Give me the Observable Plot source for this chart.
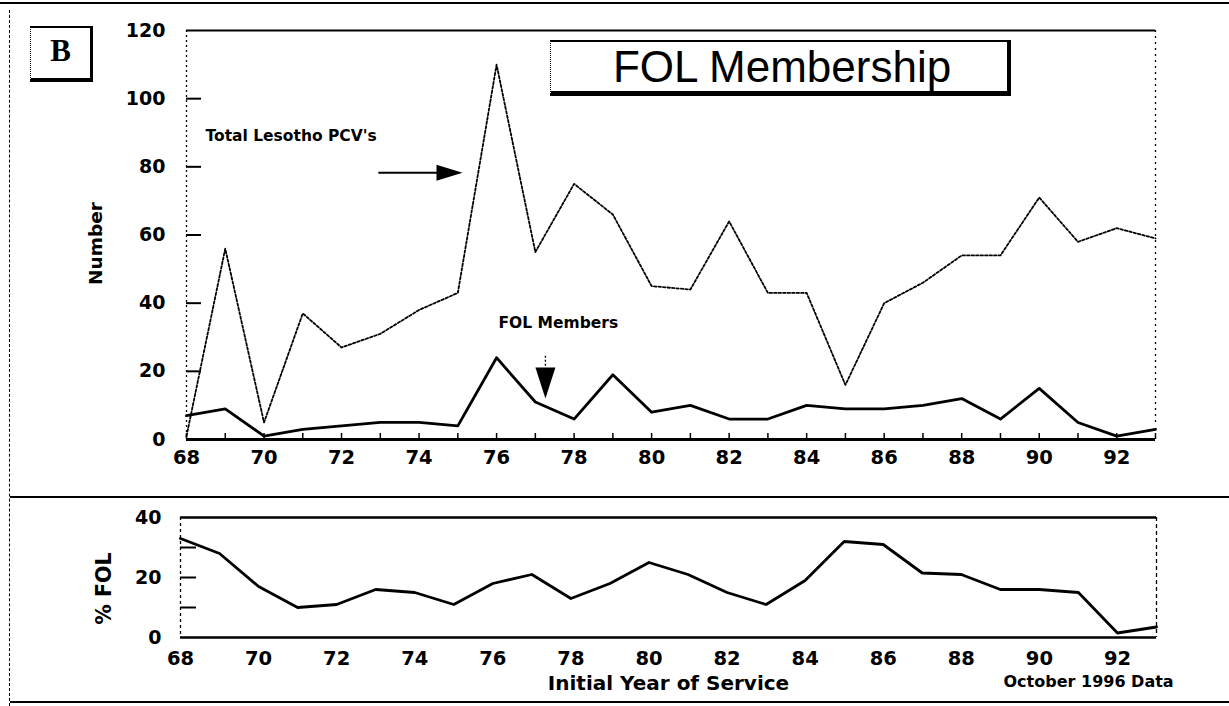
<!DOCTYPE html>
<html>
<head>
<meta charset="utf-8">
<script src="https://cdn.jsdelivr.net/npm/d3@7"></script>
<script src="https://cdn.jsdelivr.net/npm/@observablehq/plot@0.6"></script>
<style>
  html, body { margin: 0; padding: 0; background: #fff; }
  #page { position: relative; width: 1229px; height: 706px; overflow: hidden; background: #fff;
          font-family: "Liberation Sans", Arial, Helvetica, sans-serif; color: #000; }
  .abs { position: absolute; }
  #topchart { left: 0; top: 0; }
  #bottomchart { left: 0; top: 490px; }
  .hline { position: absolute; background: #000; }
  #bbox { left: 30px; top: 26px; width: 63px; height: 56px; border-top: 2px solid #000; border-left: 1px dotted #000;
          border-right: 3px solid #000; border-bottom: 4px solid #000; box-sizing: border-box;
          font-family: "Liberation Serif", "DejaVu Serif", serif; font-weight: bold; font-size: 31px;
          display: flex; align-items: center; justify-content: center; padding-bottom: 4px; }
  #titlebox { left: 550px; top: 40px; width: 461px; height: 56px; border-top: 2px solid #000; border-left: 1px dotted #000;
          border-right: 4px solid #000; border-bottom: 5px solid #000; box-sizing: border-box;
          font-size: 44px; display: flex; align-items: center; justify-content: center; padding-left: 6px; }
</style>
</head>
<body>
<div id="page">
  <div class="hline" style="left:0; top:2px; width:1229px; height:2px;"></div>
  <div class="hline" style="left:10px; top:496px; width:1219px; height:2px;"></div>
  <div class="hline" style="left:10px; top:701px; width:1219px; height:2px;"></div>
  <div class="abs" style="left:9px; top:10px; width:0; height:696px; border-left:1px dashed #000;"></div>
  <div id="topchart" class="abs"></div>
  <div id="bottomchart" class="abs"></div>
  <div id="bbox" class="abs">B</div>
  <div id="titlebox" class="abs">FOL Membership</div>
</div>
<script>
// ---- data ----
const years = [68,69,70,71,72,73,74,75,76,77,78,79,80,81,82,83,84,85,86,87,88,89,90,91,92,93];
const totalPCV = [1,56,5,37,27,31,38,43,110,55,75,66,45,44,64,43,43,16,40,46,54,54,71,58,62,59];
const folMembers = [7,9,1,3,4,5,5,4,24,11,6,19,8,10,6,6,10,9,9,10,12,6,15,5,1,3];
const pctFOL = [33,28,17,10,11,16,15,11,18,21,13,18,25,21,15,11,19,32,31,21.5,21,16,16,15,1.5,3.5];
const xTickLabels = [68,70,72,74,76,78,80,82,84,86,88,90,92];
const topYLabels = [0,20,40,60,80,100,120];
const topYInnerTicks = [20,40,60,80,100];
const bottomYLabels = [0,20,40];
const bottomYInnerTicks = [10,20,30];

const rows = years.map((yr, i) => ({year: yr, total: totalPCV[i], fol: folMembers[i], pct: pctFOL[i]}));

const font = "'DejaVu Sans', Verdana, sans-serif";

// arrowhead symbols (tip at origin)
const headRight = {draw(ctx) { ctx.moveTo(0, 0); ctx.lineTo(-26, -8); ctx.lineTo(-26, 8); ctx.closePath(); }};
const headDown = {draw(ctx) { ctx.moveTo(0, 0); ctx.lineTo(-10, -31); ctx.lineTo(10, -31); ctx.closePath(); }};

// ---- top chart ----
const topW = 1229, topH = 470, topML = 186, topMR = 74, topMT = 30, topMB = 31;
const topFrameW = topW - topML - topMR, topFrameH = topH - topMT - topMB;

const topPlot = Plot.plot({
  width: topW, height: topH,
  marginLeft: topML, marginRight: topMR, marginTop: topMT, marginBottom: topMB,
  x: {domain: [68, 93]},
  y: {domain: [0, 120]},
  style: {fontFamily: font, fontWeight: "bold", background: "transparent", color: "#000", overflow: "visible"},
  marks: [
    Plot.axisX({ticks: xTickLabels, tickSize: 0, tickPadding: 11, fontSize: 19.5, label: null, tickFormat: d => String(d)}),
    Plot.axisY({ticks: topYLabels, tickSize: 0, tickPadding: 21, fontSize: 19, label: null, tickFormat: d => String(d)}),
    Plot.tickX(years, {x: d => d, insetTop: topFrameH - 6, strokeWidth: 1.5}),
    Plot.tickY(topYInnerTicks, {y: d => d, insetRight: topFrameW - 15, strokeWidth: 2}),
    Plot.ruleX([68], {strokeDasharray: "2,3", strokeWidth: 1.3}),
    Plot.ruleX([93], {strokeDasharray: "2,4", strokeWidth: 1.3, y1: 5, y2: 120}),
    Plot.ruleY([120], {strokeWidth: 2.2}),
    Plot.ruleY([0], {strokeWidth: 3}),
    Plot.line(rows, {x: "year", y: "total", strokeDasharray: "2.5,2", strokeWidth: 1.8}),
    Plot.line(rows, {x: "year", y: "fol", strokeWidth: 2.8}),
    Plot.text(["Total Lesotho PCV's"], {x: 68.49, y: 88.9, text: d => d, textAnchor: "start", fontSize: 15.5, fontWeight: "bold"}),
    Plot.link([0], {x1: 72.95, x2: 74.6, y1: 78.3, y2: 78.3, strokeWidth: 2}),
    Plot.dot([0], {x: 75.12, y: 78.3, symbol: headRight, fill: "black", stroke: "none", r: 5}),
    Plot.text(["FOL Members"], {x: 76.05, y: 34.3, text: d => d, textAnchor: "start", fontSize: 15.5, fontWeight: "bold"}),
    Plot.link([0], {x1: 77.26, x2: 77.26, y1: 24.6, y2: 21.3, strokeWidth: 1.3, strokeDasharray: "2,2"}),
    Plot.dot([0], {x: 77.26, y: 12.0, symbol: headDown, fill: "black", stroke: "none", r: 5}),
    Plot.text(["Number"], {x: 68, y: 57.5, dx: -90, rotate: -90, text: d => d, fontSize: 18.5, fontWeight: "bold"})
  ]
});
document.getElementById("topchart").appendChild(topPlot);

// ---- bottom chart ----
const botW = 1229, botH = 216, botML = 180, botMR = 73, botMT = 27, botMB = 69;
const botFrameW = botW - botML - botMR;

const bottomPlot = Plot.plot({
  width: botW, height: botH,
  marginLeft: botML, marginRight: botMR, marginTop: botMT, marginBottom: botMB,
  x: {domain: [68, 93]},
  y: {domain: [0, 40]},
  style: {fontFamily: font, fontWeight: "bold", background: "transparent", color: "#000", overflow: "visible"},
  marks: [
    Plot.axisX({ticks: xTickLabels, tickSize: 0, tickPadding: 14, fontSize: 19.5, label: null, tickFormat: d => String(d)}),
    Plot.axisY({ticks: bottomYLabels, tickSize: 0, tickPadding: 19, fontSize: 19, label: null, tickFormat: d => String(d)}),
    Plot.tickY(bottomYInnerTicks, {y: d => d, insetRight: botFrameW - 16, strokeWidth: 2}),
    Plot.ruleX([68], {strokeDasharray: "3,3", strokeWidth: 1.3}),
    Plot.ruleX([93], {strokeDasharray: "4,3", strokeWidth: 1.3}),
    Plot.ruleY([40], {strokeWidth: 2.5}),
    Plot.ruleY([0], {strokeWidth: 2.5}),
    Plot.line(rows, {x: "year", y: "pct", strokeWidth: 2.8}),
    Plot.text(["% FOL"], {x: 68, y: 16.3, dx: -76, rotate: -90, text: d => d, fontSize: 20.5, fontWeight: "bold"}),
    Plot.text(["Initial Year of Service"], {x: 80.5, y: 0, dy: 46, text: d => d, fontSize: 20, fontWeight: "bold"}),
    Plot.text(["October 1996 Data"], {x: 91.26, y: 0, dy: 44, text: d => d, fontSize: 16, fontWeight: "bold"})
  ]
});
document.getElementById("bottomchart").appendChild(bottomPlot);
</script>
</body>
</html>
